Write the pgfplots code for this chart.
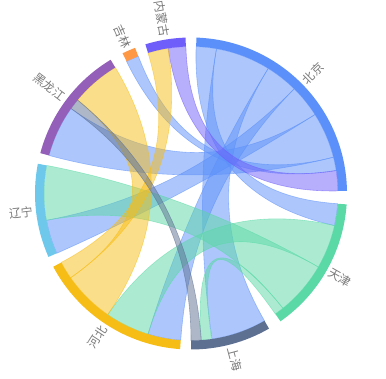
\documentclass[border=0pt]{standalone}
\usepackage{pgfplots}
\pgfplotsset{compat=1.18}
\usetikzlibrary{calc}
\usepackage{fontspec}
\newfontfamily\cjk{Noto Sans CJK SC}
\definecolor{bj}{HTML}{5B8FF9}
\definecolor{tj}{HTML}{5AD8A6}
\definecolor{sh}{HTML}{5D7092}
\definecolor{hb}{HTML}{F6BD16}
\definecolor{nm}{HTML}{6F5EF9}
\definecolor{ln}{HTML}{6DC8EC}
\definecolor{hl}{HTML}{945FB9}
\definecolor{jl}{HTML}{FF9845}
\definecolor{lab}{HTML}{7A7A7A}
% ribbon: colour, source start, source end, target start, target end (degrees, clockwise)
\newcommand{\ribbon}[5]{%
  \fill[#1,fill opacity=0.5,draw=#1,draw opacity=0.55,line width=0.6pt]
    ($(C)+(#2:147pt)$) arc[start angle=#2,end angle=#3,radius=147pt]
    .. controls ($(C)+(#3:49pt)$) and ($(C)+(#4:49pt)$) .. ($(C)+(#4:147pt)$)
    arc[start angle=#4,end angle=#5,radius=147pt]
    .. controls ($(C)+(#5:49pt)$) and ($(C)+(#2:49pt)$) .. cycle;}
% outer segment
\newcommand{\seg}[3]{%
  \fill[#1] ($(C)+(#2:156pt)$) arc[start angle=#2,end angle=#3,radius=156pt]
    -- ($(C)+(#3:147pt)$) arc[start angle=#3,end angle=#2,radius=147pt] -- cycle;}
\newcommand{\labR}[2]{\node[anchor=west,rotate=#1,inner sep=0pt,text=lab,
  font=\cjk\fontsize{12}{12}\selectfont] at ($(C)+(#1:159pt)$) {#2};}
\newcommand{\labL}[2]{\node[anchor=east,rotate=#1-180,inner sep=0pt,text=lab,
  font=\cjk\fontsize{12}{12}\selectfont] at ($(C)+(#1:159pt)$) {#2};}
\begin{document}
\begin{tikzpicture}
\begin{axis}[x=1pt,y=1pt,xmin=0,xmax=386,ymin=0,ymax=378,
  hide axis,scale only axis,clip=false]
\path (axis cs:0,0) (axis cs:386,378);
\coordinate (C) at (axis cs:191,184.5);
% links (values as arc spans in degrees)
\ribbon{bj}{88}{80}{-4}{-12.6}
\ribbon{bj}{80}{58.3}{-60}{-81.8}
\ribbon{bj}{58.3}{45.4}{-94}{-107}
\ribbon{bj}{45.4}{32.5}{204}{190.5}
\ribbon{bj}{32.5}{14.3}{165}{144.7}
\ribbon{bj}{14.3}{9}{116}{111}
\ribbon{nm}{9}{1}{99}{92}
\ribbon{tj}{-12.6}{-30}{-107}{-124.5}
\ribbon{tj}{-30}{-51.3}{190.5}{169}
\ribbon{tj}{-51.3}{-55}{-82}{-86}
\ribbon{hb}{-124.5}{-145}{140.5}{121}
\ribbon{hb}{-145}{-152}{107}{99}
\ribbon{sh}{-86}{-90}{144.7}{140.5}
% nodes
\seg{bj}{88}{1}
\seg{tj}{-4}{-55}
\seg{sh}{-60}{-90}
\seg{hb}{-94}{-152}
\seg{ln}{204}{169}
\seg{hl}{165}{121}
\seg{jl}{116}{111}
\seg{nm}{107}{92}
% labels
\labR{44.5}{北京}
\labR{-29.5}{天津}
\labR{-75}{上海}
\labL{-123}{河北}
\labL{186.5}{辽宁}
\labL{143}{黑龙江}
\labL{113.5}{吉林}
\labL{99.5}{内蒙古}
\end{axis}
\end{tikzpicture}
\end{document}
